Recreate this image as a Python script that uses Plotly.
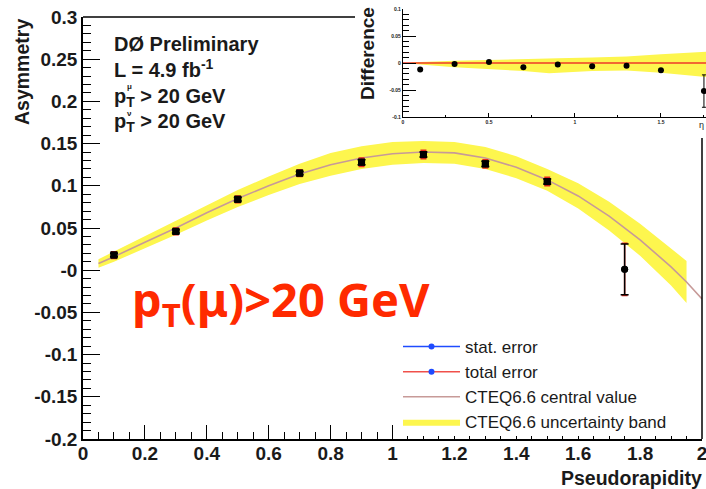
import plotly.graph_objects as go

W, H = 706, 489

# ---- measured W charge asymmetry ----
eta = [0.1, 0.3, 0.5, 0.7, 0.9, 1.1, 1.3, 1.5, 1.75]
asym = [0.018, 0.046, 0.084, 0.115, 0.128, 0.137, 0.126, 0.105, 0.001]
asym_stat = [0.002, 0.002, 0.002, 0.002, 0.003, 0.003, 0.003, 0.003, 0.030]
asym_total = [0.004, 0.004, 0.004, 0.004, 0.005, 0.005, 0.005, 0.005, 0.031]
point_symbols = ["square"] * 8 + ["circle"]

# ---- CTEQ6.6 prediction ----
cteq_eta = [0.05, 0.1, 0.2, 0.3, 0.4, 0.5, 0.6, 0.7, 0.8, 0.9, 1.0, 1.1,
            1.2, 1.3, 1.4, 1.5, 1.6, 1.7, 1.8, 1.9, 1.95, 2.0]
cteq_central = [0.008, 0.016, 0.033, 0.050, 0.068, 0.085, 0.100, 0.114, 0.125,
                0.133, 0.138, 0.140, 0.139, 0.133, 0.122, 0.107, 0.088, 0.064,
                0.036, 0.004, -0.014, -0.034]
band_eta = [0.05, 0.1, 0.2, 0.3, 0.4, 0.5, 0.6, 0.7, 0.8, 0.9, 1.0, 1.1,
            1.2, 1.3, 1.4, 1.5, 1.6, 1.7, 1.8, 1.9, 1.95]
band_hi = [0.013, 0.022, 0.040, 0.058, 0.077, 0.095, 0.111, 0.126, 0.139,
           0.147, 0.152, 0.153, 0.152, 0.146, 0.135, 0.120, 0.103, 0.081,
           0.055, 0.026, 0.011]
band_lo = [0.003, 0.010, 0.026, 0.042, 0.059, 0.075, 0.089, 0.102, 0.112,
           0.120, 0.125, 0.127, 0.126, 0.120, 0.109, 0.094, 0.073, 0.047,
           0.017, -0.018, -0.039]

# ---- data minus prediction (inset) ----
diff = [-0.012, -0.002, 0.002, -0.008, -0.003, -0.006, -0.005, -0.0135, -0.052]
diff_err = [0.002, 0.002, 0.002, 0.002, 0.003, 0.003, 0.003, 0.003, 0.030]
diff_band_eta = [0.05, 0.1, 0.3, 0.5, 0.7, 0.85, 0.9, 1.1, 1.3, 1.5, 1.76, 1.95]
diff_band_hi = [0.001, 0.002, 0.004, 0.006, 0.008, 0.009, 0.009, 0.010,
                0.012, 0.016, 0.021, 0.024]
diff_band_lo = [-0.001, -0.003, -0.008, -0.011, -0.015, -0.019, -0.018,
                -0.015, -0.014, -0.018, -0.026, -0.030]

# ---- tick labels ----
y_tickvals = [-0.2, -0.15, -0.1, -0.05, 0.0, 0.05, 0.1, 0.15, 0.2, 0.25, 0.3]
y_ticktext = ["-0.2", "-0.15", "-0.1", "-0.05", "-0", "0.05", "0.1", "0.15",
              "0.2", "0.25", "0.3"]
x_tickvals = [0, 0.2, 0.4, 0.6, 0.8, 1.0, 1.2, 1.4, 1.6, 1.8, 2.0]
x_ticktext = ["0", "0.2", "0.4", "0.6", "0.8", "1", "1.2", "1.4", "1.6",
              "1.8", "2"]
inset_y_tickvals = [-0.1, -0.05, 0.0, 0.05, 0.1]
inset_y_ticktext = ["-0.1", "-0.05", "0", "0.05", "0.1"]
inset_x_tickvals = [0, 0.5, 1.0, 1.5]
inset_x_ticktext = ["0", "0.5", "1", "1.5"]

YELLOW = "#fdf64e"
CURVE = "#c79a98"
FONT = "Liberation Sans"
INK = "#1a1a1a"


def px(x):
    return x / W


def py(y):
    return 1 - y / H


fig = go.Figure()

# uncertainty band (main)
fig.add_trace(go.Scatter(x=band_eta, y=band_lo, mode="lines", line=dict(width=0),
                         showlegend=False, hoverinfo="skip"))
fig.add_trace(go.Scatter(x=band_eta, y=band_hi, mode="lines", line=dict(width=0),
                         fill="tonexty", fillcolor=YELLOW,
                         name="CTEQ6.6 uncertainty band", legendrank=4))
# central value
fig.add_trace(go.Scatter(x=cteq_eta, y=cteq_central, mode="lines",
                         line=dict(color=CURVE, width=1.6),
                         name="CTEQ6.6 central value", legendrank=3))
# total error
fig.add_trace(go.Scatter(x=eta, y=asym, mode="markers",
                         marker=dict(color="black", size=7, symbol=point_symbols),
                         error_y=dict(type="data", array=asym_total, color="#e8281e",
                                      thickness=1.5, width=3),
                         showlegend=False))
# stat error
fig.add_trace(go.Scatter(x=eta, y=asym, mode="markers",
                         marker=dict(color="black", size=7, symbol=point_symbols),
                         error_y=dict(type="data", array=asym_stat, color="black",
                                      thickness=1.5, width=4),
                         showlegend=False))

# legend-only entries for the error styles
fig.add_trace(go.Scatter(x=[None], y=[None], mode="lines+markers",
                         line=dict(color="#1f4bff", width=1.5),
                         marker=dict(color="#1f4bff", size=6),
                         name="stat. error", legendrank=1))
fig.add_trace(go.Scatter(x=[None], y=[None], mode="lines+markers",
                         line=dict(color="#f0504a", width=1.5),
                         marker=dict(color="#1f4bff", size=6),
                         name="total error", legendrank=2))

# ---- inset: difference ----
fig.add_trace(go.Scatter(x=diff_band_eta, y=diff_band_lo, mode="lines",
                         line=dict(width=0), xaxis="x2", yaxis="y2",
                         showlegend=False, hoverinfo="skip"))
fig.add_trace(go.Scatter(x=diff_band_eta, y=diff_band_hi, mode="lines",
                         line=dict(width=0), fill="tonexty", fillcolor=YELLOW,
                         xaxis="x2", yaxis="y2", showlegend=False))
fig.add_trace(go.Scatter(x=[0, 2], y=[0, 0], mode="lines",
                         line=dict(color="#ee3a2a", width=1.5),
                         xaxis="x2", yaxis="y2", showlegend=False))
fig.add_trace(go.Scatter(x=eta, y=diff, mode="markers",
                         marker=dict(color="black", size=6),
                         error_y=dict(type="data", array=diff_err, color="black",
                                      thickness=1, width=2),
                         xaxis="x2", yaxis="y2", showlegend=False))

tickfont = dict(family=FONT, size=19, color=INK, weight="bold")

fig.update_layout(
    width=W, height=H,
    margin=dict(l=0, r=0, t=0, b=0, pad=0, autoexpand=False),
    paper_bgcolor="white", plot_bgcolor="rgba(0,0,0,0)",
    xaxis=dict(domain=[px(83), px(702)], range=[0, 2], showgrid=False,
               zeroline=False, showline=True, linecolor="black", linewidth=1.5,
               ticks="inside", ticklen=14, tickwidth=1.2, tickcolor="black",
               tickvals=x_tickvals, ticktext=x_ticktext, tickfont=tickfont,
               ticklabeloverflow="allow", automargin=False,
               ticklabelstandoff=-4,
               minor=dict(dtick=0.05, ticks="inside", ticklen=7,
                          tickcolor="black", tickwidth=1.2),
               anchor="y"),
    yaxis=dict(domain=[py(439), py(17)], range=[-0.2, 0.3], showgrid=False,
               zeroline=False, showline=True, linecolor="black", linewidth=1.5,
               ticks="inside", ticklen=17, tickwidth=1.2, tickcolor="black",
               tickvals=y_tickvals, ticktext=y_ticktext, tickfont=tickfont,
               ticklabeloverflow="allow", automargin=False,
               minor=dict(dtick=0.01, ticks="inside", ticklen=8,
                          tickcolor="black", tickwidth=1.2),
               anchor="x"),
    xaxis2=dict(domain=[px(403), 1], range=[0, 1.762], showgrid=False,
                zeroline=False, showline=True, linecolor="black", linewidth=1.2,
                ticks="inside", ticklen=4, tickwidth=1, tickcolor="black",
                tickvals=inset_x_tickvals, ticktext=inset_x_ticktext,
                tickfont=dict(family=FONT, size=5, color=INK, weight="bold"),
                automargin=False,
                minor=dict(dtick=0.25, ticks="inside", ticklen=2,
                           tickcolor="black"),
                anchor="y2"),
    yaxis2=dict(domain=[py(117), py(9)], range=[-0.1, 0.1], showgrid=False,
                zeroline=False, showline=True, linecolor="black", linewidth=1.2,
                ticks="inside", ticklen=13, tickwidth=1, tickcolor="black",
                tickvals=inset_y_tickvals, ticktext=inset_y_ticktext,
                tickfont=dict(family=FONT, size=5, color=INK, weight="bold"),
                automargin=False,
                minor=dict(dtick=0.01, ticks="inside", ticklen=6,
                           tickcolor="black", tickwidth=1),
                anchor="x2"),
    showlegend=True,
    legend=dict(x=px(398), y=py(329), xanchor="left", yanchor="top",
                bgcolor="rgba(255,255,255,0)", borderwidth=0,
                font=dict(family=FONT, size=17, color=INK),
                itemwidth=57, traceorder="normal", tracegroupgap=0),
    shapes=[
        # cover behind the legend
        dict(type="rect", xref="paper", yref="paper", x0=px(395), x1=px(701),
             y0=py(436), y1=py(330), fillcolor="white", line=dict(width=0),
             layer="above"),
        # frame: top edge up to the inset, right edge below it
        dict(type="line", xref="paper", yref="paper", x0=px(83), x1=px(355),
             y0=py(17), y1=py(17), line=dict(color="black", width=1.5)),
        dict(type="line", xref="paper", yref="paper", x0=px(702), x1=px(702),
             y0=py(439), y1=py(138), line=dict(color="black", width=1.5)),
    ],
)

bold = dict(family=FONT, color=INK, weight="bold")
annotations = [
    dict(text="Asymmetry", x=px(22), y=py(17), xanchor="center", yanchor="top",
         textangle=-90, font=dict(size=19.5, **bold)),
    dict(text="Pseudorapidity", x=px(704), y=py(478), xanchor="right",
         yanchor="middle", font=dict(size=19.5, **bold)),
    dict(text="Difference", x=px(367), y=py(54), xanchor="center",
         yanchor="middle", textangle=-90, font=dict(size=19, **bold)),
    dict(text="η", x=px(701), y=py(125), xanchor="center", yanchor="middle",
         font=dict(family=FONT, size=9, color=INK)),
    dict(text="DØ Preliminary", x=px(112), y=py(44), xanchor="left",
         yanchor="middle", font=dict(size=20, **bold)),
    dict(text="L = 4.9 fb<sup>-1</sup>", x=px(112), y=py(69), xanchor="left",
         yanchor="middle", font=dict(size=20, **bold)),
    dict(text="p<sub>T</sub> > 20 GeV", x=px(112), y=py(97), xanchor="left",
         yanchor="middle", font=dict(size=20, **bold)),
    dict(text="μ", x=px(125), y=py(87), xanchor="left", yanchor="middle",
         font=dict(size=8, **bold)),
    dict(text="p<sub>T</sub> > 20 GeV", x=px(112), y=py(122), xanchor="left",
         yanchor="middle", font=dict(size=20, **bold)),
    dict(text="ν", x=px(125), y=py(113), xanchor="left", yanchor="middle",
         font=dict(size=8, **bold)),
    dict(text="p<sub>T</sub>(μ)>20 GeV", x=px(130), y=py(302), xanchor="left",
         yanchor="middle",
         font=dict(family="Noto Sans", size=47, color="#ff2a00", weight="bold")),
]
for a in annotations:
    a.update(xref="paper", yref="paper", showarrow=False)
fig.update_layout(annotations=annotations)

fig.write_html("out.html")
